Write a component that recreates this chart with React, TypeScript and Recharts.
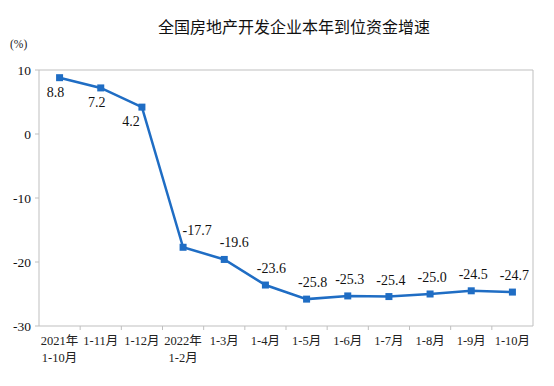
import React from "react";
import { LineChart, Line, XAxis, YAxis, CartesianGrid } from "recharts";

const categories = [
  "2021年\n1-10月", "1-11月", "1-12月", "2022年\n1-2月", "1-3月", "1-4月",
  "1-5月", "1-6月", "1-7月", "1-8月", "1-9月", "1-10月",
];
const growth = [8.8, 7.2, 4.2, -17.7, -19.6, -23.6, -25.8, -25.3, -25.4, -25.0, -24.5, -24.7];
const yTicks = [10, 0, -10, -20, -30];

const data = categories.map((name, i) => ({ name, value: growth[i] }));

const serif = "'Liberation Serif', 'DejaVu Serif', 'Noto Sans CJK SC', serif";
const blue = "#1f6dc4";
const gray = "#bfbfbf";

function XTick(props: any) {
  const { x, y, payload } = props;
  const lines = String(payload.value).split("\n");
  const off = payload.offset || 0;
  return (
    <g>
      {payload.index > 0 && (
        <line x1={x - off} x2={x - off} y1={y - 8} y2={y - 4} stroke={gray} />
      )}
      {lines.map((t: string, i: number) => (
        <text key={i} x={x} y={y + 11 + i * 17} textAnchor="middle" fontSize={12.5} style={{ fontFamily: serif }} fill="#222">
          {t}
        </text>
      ))}
    </g>
  );
}

function YTick(props: any) {
  const { x, y, payload } = props;
  return (
    <text x={x - 2} y={y + 5} textAnchor="end" fontSize={13.5} style={{ fontFamily: serif }} fill="#111">
      {payload.value}
    </text>
  );
}

function ValueLabel(props: any) {
  const { x, y, value, index } = props;
  let dx = 2;
  let dy = -12;
  if (index < 3) {
    dx = index === 2 ? -11 : -4;
    dy = 19;
  } else if (index === 3) dx = 14;
  else if (index === 4) dx = 10;
  else if (index <= 6) dx = 6;
  return (
    <text x={x + dx} y={y + dy} textAnchor="middle" fontSize={14} style={{ fontFamily: serif }} fill="#111">
      {value.toFixed(1)}
    </text>
  );
}

export default function App() {
  return (
    <div style={{ position: "absolute", left: 0, top: 0, width: 554, height: 386, background: "#fff" }}>
      <div
        style={{
          position: "absolute", left: 0, top: 14, width: 588, textAlign: "center",
          fontFamily: "'Noto Sans CJK SC', sans-serif", fontSize: 16, color: "#111",
        }}
      >
        全国房地产开发企业本年到位资金增速
      </div>
      <div style={{ position: "absolute", left: 10, top: 38, fontFamily: serif, fontSize: 11.5, color: "#222" }}>
        (%)
      </div>
      <LineChart
        width={554}
        height={386}
        data={data}
        margin={{ top: 70, right: 21, left: 9, bottom: 10 }}
        style={{ position: "absolute", left: 0, top: 0 }}
      >
        <CartesianGrid
          stroke={gray}
          strokeDasharray=""
          horizontalCoordinatesGenerator={({ offset }: any) => [offset.top]}
          verticalCoordinatesGenerator={({ offset }: any) => [offset.left + offset.width]}
        />
        <XAxis
          dataKey="name"
          scale="band"
          interval={0}
          height={50}
          axisLine={{ stroke: gray }}
          tickLine={false}
          tick={<XTick />}
        />
        <YAxis
          width={30}
          domain={[-30, 10]}
          ticks={yTicks}
          interval={0}
          axisLine={{ stroke: gray }}
          tickLine={{ stroke: gray }}
          tickSize={4}
          tick={<YTick />}
        />
        <Line
          dataKey="value"
          stroke={blue}
          strokeWidth={2.5}
          isAnimationActive={false}
          dot={(p: any) => (
            <rect key={p.index} x={p.cx - 3.5} y={p.cy - 3.5} width={7} height={7} fill={blue} />
          )}
          label={<ValueLabel />}
        />
      </LineChart>
    </div>
  );
}
